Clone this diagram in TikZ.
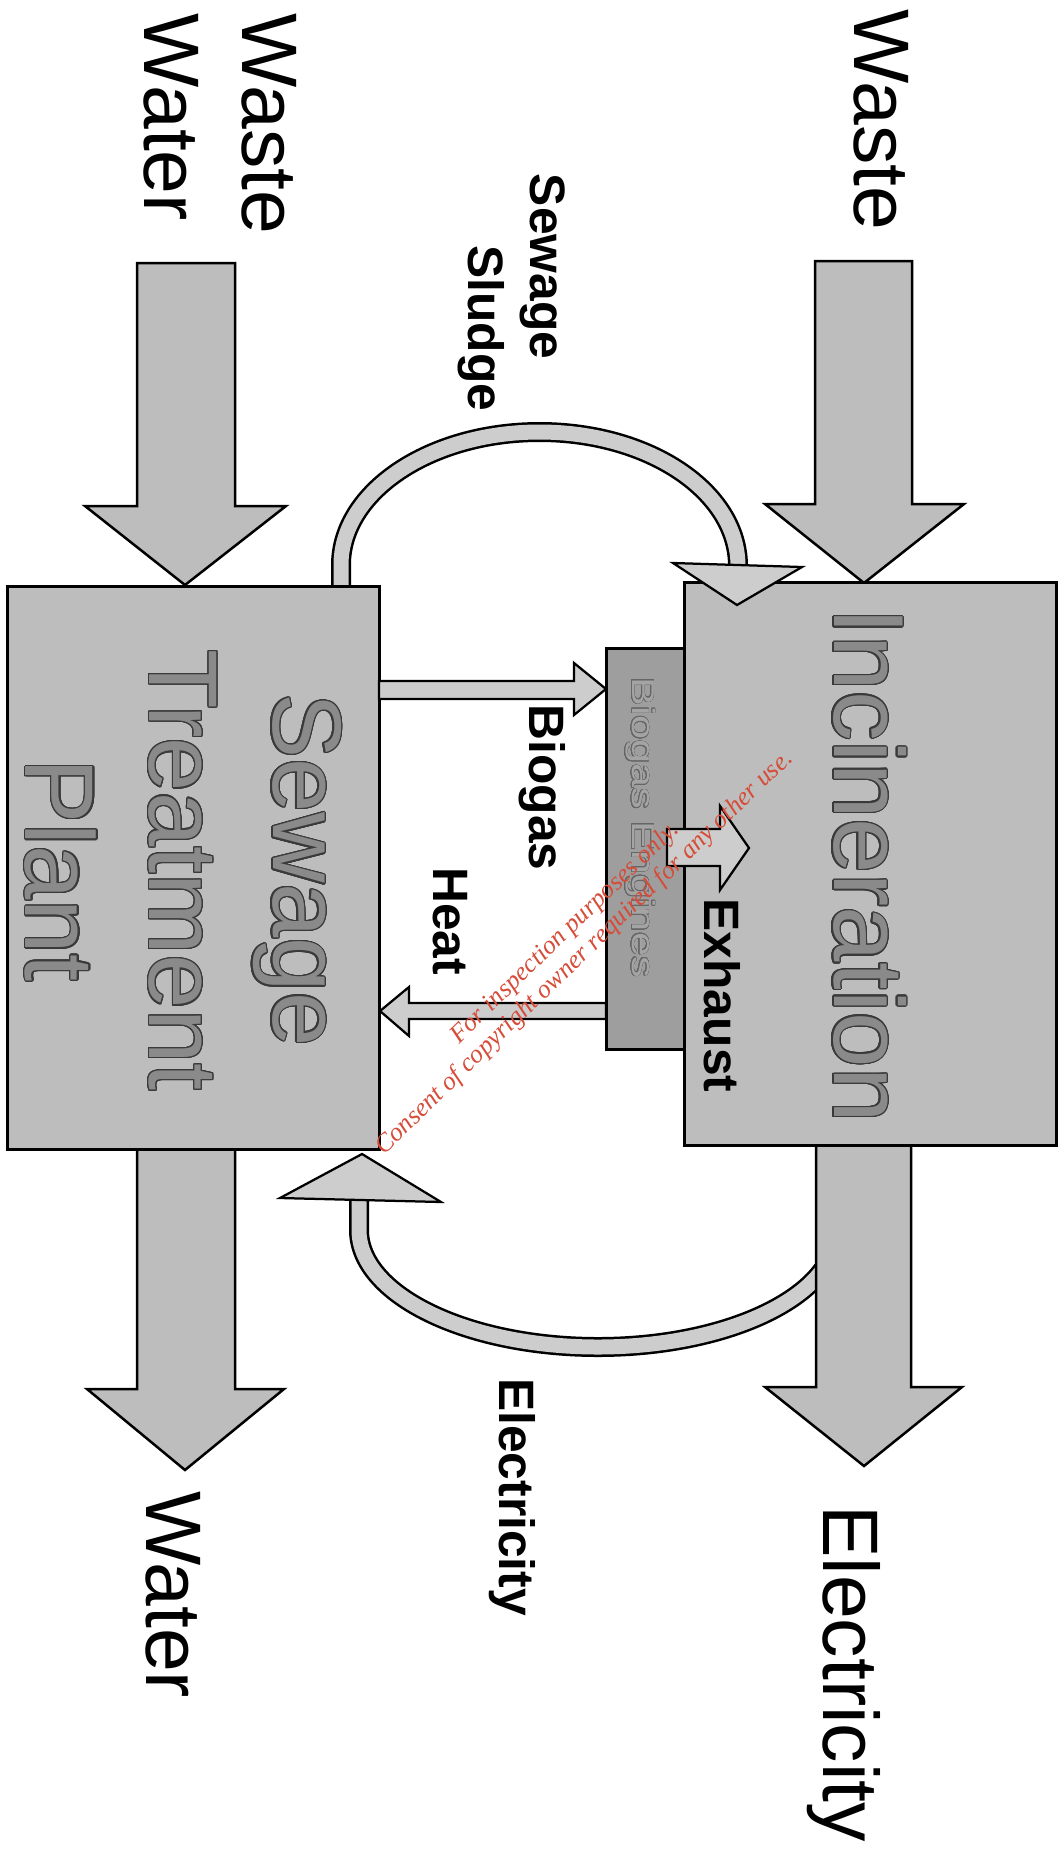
\documentclass[tikz,border=0pt]{standalone}
\usepackage{fontspec}
\setmainfont{Liberation Sans}
\newfontfamily\wmfont{Liberation Serif}
\usepackage{contour}
\contournumber{24}
\contourlength{0.7pt}
\definecolor{boxgray}{HTML}{BDBDBD}
\definecolor{lightgray2}{HTML}{CDCDCD}
\definecolor{enggray}{HTML}{9E9E9E}
\definecolor{textgray}{HTML}{8A8A8A}
\definecolor{outgray}{HTML}{3A3A3A}
\definecolor{engtext}{HTML}{A4A4A4}
\definecolor{wmred}{RGB}{214,76,56}
\begin{document}
\begin{tikzpicture}[x=0.02cm,y=-0.02cm,
  bigarrow/.style={draw=black, line width=0.05cm, fill=boxgray, line join=miter},
  box/.style={draw=black, line width=0.06cm, fill=boxgray, inner sep=0pt},
  thinarrow/.style={draw=black, line width=0.045cm, fill=lightgray2, line join=miter},
  band/.style={draw=black, line width=0.05cm, double=lightgray2, double distance=0.3cm},
  bigtext/.style={rotate=-90, inner sep=0pt, font=\fontsize{44.8pt}{56.1pt}\selectfont},
  lbl/.style={rotate=-90, inner sep=0pt, font=\fontsize{28.3pt}{34pt}\selectfont\bfseries},
  boxtext/.style={rotate=-90, inner sep=0pt, align=center, text=textgray},
]
\useasboundingbox (0,0) rectangle (1063,1853);

% electricity return band (drawn first, its end hidden under the shaft)
\coordinate (retstart) at (822.6,1270);
\coordinate (retend) at (359,1200);
\draw[band] (retstart) .. controls (788.2,1316.2) and (698.5,1347) .. (598,1347)
  .. controls (466,1347) and (359,1294.6) .. (359,1230) -- (retend);

% sewage sludge band
\coordinate (sludgestart) at (341,590);
\coordinate (sludgeend) at (738,566);
\draw[band] (sludgestart) -- (341,565) .. controls (341,491.5) and (429.9,432) .. (539.5,432)
  .. controls (649.1,432) and (738,491.5) .. (sludgeend);

% big arrows
\draw[bigarrow] (137,263) -- (235,263) -- (235,506) -- (286,506) -- (185,585) -- (85,506) -- (137,506) -- cycle;
\draw[bigarrow] (815,261) -- (912,261) -- (912,504) -- (964,504) -- (864,583) -- (765,504) -- (815,504) -- cycle;
\draw[bigarrow] (137,1146) -- (235,1146) -- (235,1389) -- (284,1389) -- (185,1470) -- (87,1389) -- (137,1389) -- cycle;
\draw[bigarrow] (816,1144) -- (911,1144) -- (911,1387) -- (962,1387) -- (864,1466) -- (765,1387) -- (816,1387) -- cycle;

% boxes
\node[box, fill=enggray, minimum width=1.56cm, minimum height=8.04cm] (eng) at (645,849) {};
\node[box, minimum width=7.46cm, minimum height=11.28cm] (stp) at (193.5,868) {};
\node[box, minimum width=7.46cm, minimum height=11.28cm] (inc) at (870.5,864) {};

% sludge head
\draw[thinarrow] (673,563) -- (802,567) -- (737,605) -- cycle;
% electricity return head
\draw[thinarrow] (280,1198) -- (441,1202) -- (362,1154) -- cycle;

% biogas arrow
\draw[thinarrow] (379,681) -- (574,681) -- (574,663) -- (606,689) -- (574,715) -- (574,699) -- (379,699) -- cycle;
% heat arrow
\draw[thinarrow] (606,1003) -- (409,1003) -- (409,987) -- (380,1011) -- (409,1036) -- (409,1019) -- (606,1019) -- cycle;
% exhaust arrow
\draw[thinarrow] (667,829) -- (720,829) -- (720,806) -- (749,848) -- (720,890) -- (720,866) -- (667,866) -- cycle;

% texts
\node[bigtext, align=left] (tww) at (220,124) {Waste\\Water};
\node[bigtext] (tw) at (881.5,120) {Waste};
\node[bigtext] (twat) at (173.5,1594.5) {Water};
\node[bigtext] (tel) at (844,1673.5) {Electricity};

\node[boxtext, font=\fontsize{55.6pt}{70.3pt}\selectfont] (tstp) at (182.5,870)
  {\contour{outgray}{Sewage}\\\contour{outgray}{Treatment}\\\contour{outgray}{Plant}};
\node[boxtext, font=\fontsize{56.7pt}{68pt}\selectfont] (tinc) at (869,865.5) {\contour{outgray}{Incineration}};
\node[rotate=-90, xscale=1.36, inner sep=0pt, text=engtext, font=\fontsize{18.1pt}{22pt}\selectfont] (teng) at (640,827.5)
  {\contourlength{0.3pt}\contour{black!60}{Biogas Engines}};

\node[lbl] (lsew) at (542.5,266.5) {Sewage};
\node[lbl] (lslu) at (481,328.5) {Sludge};
\node[lbl] (lbio) at (542.5,787.5) {Biogas};
\node[lbl] (lheat) at (450.5,921) {Heat};
\node[lbl] (lexh) at (722.5,995.5) {Exhaust};
\node[lbl] (lel) at (512,1497) {Electricity};

% watermark
\node[rotate=44, text=wmred, align=center, inner sep=0pt,
  font=\wmfont\itshape\fontsize{14.7pt}{15.9pt}\selectfont] (wm) at (575,943)
  {For inspection purposes only.\\Consent of copyright owner required for any other use.};
\end{tikzpicture}
\end{document}
